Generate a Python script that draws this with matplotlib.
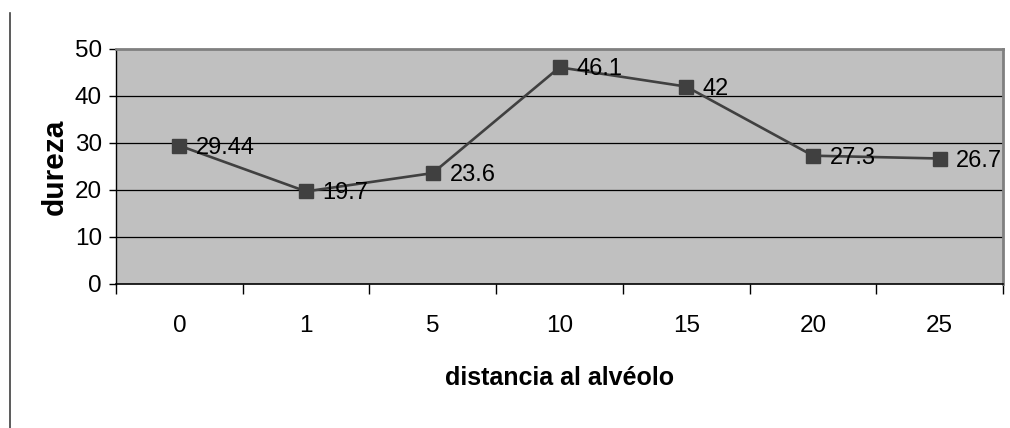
import matplotlib
matplotlib.use("Agg")
import matplotlib.pyplot as plt
from matplotlib.lines import Line2D

distances = ["0", "1", "5", "10", "15", "20", "25"]
hardness = [29.44, 19.7, 23.6, 46.1, 42, 27.3, 26.7]
value_labels = ["29.44", "19.7", "23.6", "46.1", "42", "27.3", "26.7"]
y_ticks = [0, 10, 20, 30, 40, 50]

plt.rcParams["font.family"] = ["Liberation Sans", "DejaVu Sans"]

W, H = 1010, 428
fig = plt.figure(figsize=(W / 100, H / 100), dpi=100)
fig.patch.set_facecolor("white")

left, right, top, bottom = 116, 1003, 49, 284
ax = fig.add_axes([left / W, 1 - bottom / H, (right - left) / W, (bottom - top) / H])
ax.set_facecolor("#c0c0c0")

x = list(range(len(distances)))
ax.plot(x, hardness, color="#404040", lw=1.9, marker="s", markersize=10.5,
        markerfacecolor="#404040", markeredgecolor="#404040", zorder=3, clip_on=False)

for xi, yi, lab in zip(x, hardness, value_labels):
    ax.annotate(lab, (xi, yi), xytext=(12, -1.5), textcoords="offset points",
                ha="left", va="center", fontsize=17, color="black", zorder=4)

ax.set_xlim(-0.5, len(distances) - 0.5)
ax.set_ylim(0, 50)

ax.set_yticks(y_ticks)
ax.set_yticklabels([str(v) for v in y_ticks], fontsize=17.5)
ax.tick_params(axis="y", direction="out", length=5, width=1, color="black", pad=5)

ax.set_xticks(x)
ax.set_xticklabels(distances, fontsize=17.5)
ax.tick_params(axis="x", which="major", length=0, pad=22)
ax.set_xticks([i - 0.5 for i in range(len(distances) + 1)], minor=True)
ax.tick_params(axis="x", which="minor", direction="out", length=7, width=1, color="black")

for yv in y_ticks[1:-1]:
    ax.axhline(yv, color="black", lw=0.9, zorder=1)

ax.spines["left"].set_color("black")
ax.spines["left"].set_linewidth(1)
ax.spines["bottom"].set_color("black")
ax.spines["bottom"].set_linewidth(1.2)
ax.spines["top"].set_color("#808080")
ax.spines["top"].set_linewidth(2)
ax.spines["right"].set_color("#808080")
ax.spines["right"].set_linewidth(2)

fig.text(560 / W, 1 - 378 / H, "distancia al alvéolo", ha="center", va="center",
         fontsize=18, fontweight="bold")
fig.text(55 / W, 1 - 167 / H, "dureza", ha="center", va="center", rotation=90,
         fontsize=21.5, fontweight="bold")

fig.add_artist(Line2D([9.5 / W, 9.5 / W], [0, 1 - 13 / H], transform=fig.transFigure,
                      color="#404040", lw=1.2))

fig.savefig("out.png", dpi=100)
